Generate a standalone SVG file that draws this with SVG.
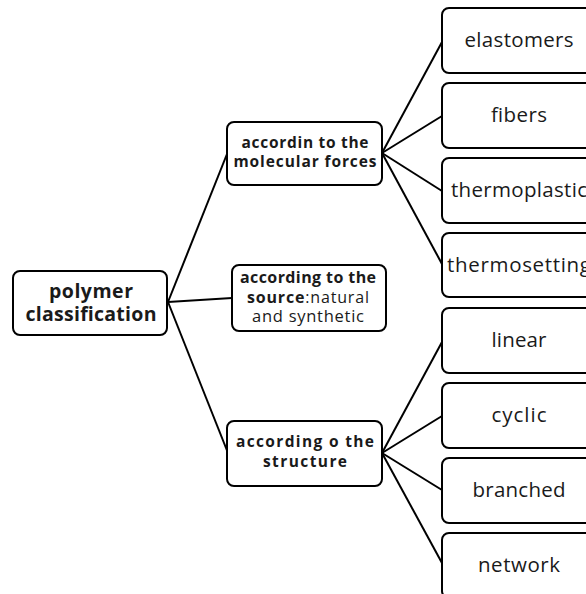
<svg xmlns="http://www.w3.org/2000/svg" width="586" height="594" viewBox="0 0 586 594">
<style>
.box{fill:#fff;stroke:#000;stroke-width:2}
.t{font-family:"Open Sans","DejaVu Sans",sans-serif;text-anchor:middle;fill:#1a1a1a}
.b{font-weight:bold}
.r{font-size:20.5px}
.m{font-size:15.5px}
.line{stroke:#000;stroke-width:2;fill:none}
</style>
<rect width="586" height="594" fill="#fff"/>
<g id="connectors" class="line">
<line x1="168" y1="302" x2="227" y2="154"/>
<line x1="168" y1="302" x2="232" y2="298"/>
<line x1="168" y1="302" x2="228" y2="453"/>
<line x1="382" y1="153" x2="442" y2="42"/>
<line x1="382" y1="153" x2="442" y2="116"/>
<line x1="382" y1="153" x2="442" y2="191"/>
<line x1="382" y1="153" x2="442" y2="264"/>
<line x1="382" y1="453" x2="442" y2="342"/>
<line x1="382" y1="453" x2="442" y2="416"/>
<line x1="382" y1="453" x2="442" y2="490"/>
<line x1="382" y1="453" x2="442" y2="563"/>
</g>
<g id="root">
<rect class="box" x="13" y="271" width="154" height="64" rx="7"/>
<text class="t b" font-size="19.5" x="91" y="298" textLength="84" lengthAdjust="spacing">polymer</text>
<text class="t b" font-size="19.5" x="91" y="321" textLength="131" lengthAdjust="spacing">classification</text>
</g>
<g id="molecular">
<rect class="box" x="227" y="122" width="155" height="63" rx="7"/>
<text class="t b m" x="305" y="148" textLength="127" lengthAdjust="spacing">accordin to the</text>
<text class="t b m" x="305" y="167" textLength="143" lengthAdjust="spacing">molecular forces</text>
</g>
<g id="source">
<rect class="box" x="232" y="265" width="154" height="66" rx="7"/>
<text class="t b" font-size="16" x="308" y="283" textLength="136" lengthAdjust="spacing">according to the</text>
<text class="t" font-size="16" x="308" y="303" textLength="122" lengthAdjust="spacing"><tspan font-weight="bold">source</tspan>:natural</text>
<text class="t" font-size="16.5" x="308" y="322" textLength="112" lengthAdjust="spacing">and synthetic</text>
</g>
<g id="structure">
<rect class="box" x="227" y="421" width="155" height="65" rx="7"/>
<text class="t b m" x="305" y="447" textLength="138" lengthAdjust="spacing">according o the</text>
<text class="t b m" x="305" y="467" textLength="84" lengthAdjust="spacing">structure</text>
</g>
<g id="elastomers">
<rect class="box" x="442" y="8" width="155" height="65" rx="7"/>
<text class="t r" x="519" y="47" textLength="109" lengthAdjust="spacing">elastomers</text>
</g>
<g id="fibers">
<rect class="box" x="442" y="83" width="155" height="65" rx="7"/>
<text class="t r" x="519" y="122" textLength="56" lengthAdjust="spacing">fibers</text>
</g>
<g id="thermoplastic">
<rect class="box" x="442" y="158" width="155" height="65" rx="7"/>
<text class="t r" x="519" y="197" textLength="136" lengthAdjust="spacing">thermoplastic</text>
</g>
<g id="thermosetting">
<rect class="box" x="442" y="233" width="155" height="64" rx="7"/>
<text class="t r" x="519" y="272" textLength="144" lengthAdjust="spacing">thermosetting</text>
</g>
<g id="linear">
<rect class="box" x="442" y="308" width="155" height="65" rx="7"/>
<text class="t r" x="519" y="347" textLength="55" lengthAdjust="spacing">linear</text>
</g>
<g id="cyclic">
<rect class="box" x="442" y="383" width="155" height="65" rx="7"/>
<text class="t r" x="519" y="422" textLength="55" lengthAdjust="spacing">cyclic</text>
</g>
<g id="branched">
<rect class="box" x="442" y="458" width="155" height="65" rx="7"/>
<text class="t r" x="519" y="497" textLength="93" lengthAdjust="spacing">branched</text>
</g>
<g id="network">
<rect class="box" x="442" y="533" width="155" height="65" rx="7"/>
<text class="t r" x="519" y="572" textLength="82" lengthAdjust="spacing">network</text>
</g>
</svg>
